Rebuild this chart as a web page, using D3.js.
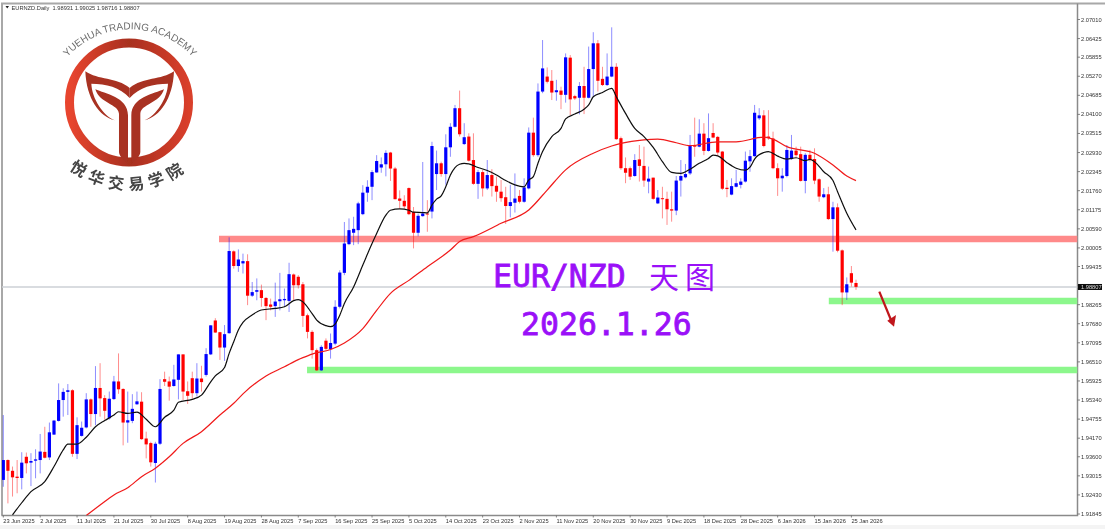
<!DOCTYPE html>
<html><head><meta charset="utf-8">
<script src="https://cdn.jsdelivr.net/npm/d3@7"></script>
<style>html,body{margin:0;padding:0;background:#fff;overflow:hidden}svg{display:block}</style>
</head><body><div id="c"></div>
<script>
const dateLabels=["23 Jun 2025","2 Jul 2025","11 Jul 2025","21 Jul 2025","30 Jul 2025","8 Aug 2025","19 Aug 2025","28 Aug 2025","7 Sep 2025","16 Sep 2025","25 Sep 2025","5 Oct 2025","14 Oct 2025","23 Oct 2025","2 Nov 2025","11 Nov 2025","20 Nov 2025","30 Nov 2025","9 Dec 2025","18 Dec 2025","28 Dec 2025","6 Jan 2026","15 Jan 2026","25 Jan 2026"];
const priceTicks=[2.07010,2.06425,2.05855,2.05270,2.04685,2.04100,2.03515,2.02930,2.02345,2.01760,2.01175,2.00590,2.00005,1.99435,1.98265,1.97680,1.97095,1.96510,1.95925,1.95340,1.94755,1.94170,1.93600,1.93015,1.92430,1.91845];
const lastPrice=1.98807;
const opens=[1.9289,1.9350,1.9317,1.9299,1.9295,1.9360,1.9342,1.9348,1.9350,1.9375,
1.9358,1.9428,1.9470,1.9534,1.9559,1.9564,1.9369,1.9424,1.9450,1.9536,
1.9491,1.9571,1.9540,1.9478,1.9537,1.9591,1.9568,1.9465,1.9470,1.9521,
1.9529,1.9416,1.9402,1.9341,1.9400,1.9598,1.9591,1.9577,1.9596,1.9674,
1.9561,1.9601,1.9555,1.9600,1.9611,1.9674,1.9778,1.9742,1.9695,1.9739,
1.9990,1.9945,1.9953,1.9960,1.9854,1.9866,1.9871,1.9847,1.9827,1.9822,
1.9837,1.9840,1.9838,1.9919,1.9912,1.9889,1.9794,1.9743,1.9687,1.9625,
1.9716,1.9690,1.9707,1.9820,1.9924,2.0012,2.0047,2.0055,2.0104,2.0170,
2.0188,2.0232,2.0247,2.0257,2.0293,2.0244,2.0152,2.0145,2.0184,2.0111,
2.0047,2.0098,2.0106,2.0112,2.0227,2.0260,2.0227,2.0309,2.0372,2.0429,
2.0319,2.0342,2.0270,2.0197,2.0233,2.0183,2.0224,2.0191,2.0173,2.0156,
2.0129,2.0139,2.0160,2.0142,2.0183,2.0354,2.0285,2.0480,2.0526,2.0513,
2.0478,2.0483,2.0470,2.0584,2.0466,2.0461,2.0497,2.0461,2.0549,2.0628,
2.0519,2.0500,2.0526,2.0556,2.0337,2.0245,2.0245,2.0221,2.0272,2.0252,
2.0204,2.0216,2.0137,2.0153,2.0151,2.0119,2.0115,2.0207,2.0217,2.0229,
2.0316,2.0311,2.0351,2.0298,2.0353,2.0341,2.0296,2.0185,2.0164,2.0188,
2.0194,2.0204,2.0266,2.0282,2.0398,2.0407,2.0342,2.0336,2.0245,2.0214,
2.0221,2.0273,2.0299,2.0288,2.0206,2.0286,2.0273,2.0211,2.0156,2.0165,
2.0089,2.0125,1.9993,1.9864,1.9923,1.9893];
const highs=[1.9488,1.9352,1.9330,1.9350,1.9374,1.9373,1.9371,1.9383,1.9430,1.9452,
1.9465,1.9473,1.9585,1.9570,1.9583,1.9567,1.9481,1.9468,1.9555,1.9539,
1.9638,1.9647,1.9549,1.9560,1.9608,1.9677,1.9570,1.9560,1.9552,1.9560,
1.9558,1.9437,1.9406,1.9406,1.9598,1.9621,1.9606,1.9642,1.9674,1.9674,
1.9591,1.9621,1.9647,1.9639,1.9693,1.9764,1.9785,1.9743,1.9764,2.0033,
1.9993,1.9996,1.9983,1.9981,1.9896,1.9907,1.9888,1.9850,1.9845,1.9894,
1.9924,1.9876,1.9955,1.9922,1.9917,1.9896,1.9799,1.9748,1.9692,1.9702,
1.9723,1.9738,1.9840,1.9932,2.0080,2.0091,2.0096,2.0142,2.0193,2.0208,
2.0239,2.0285,2.0278,2.0300,2.0295,2.0249,2.0177,2.0162,2.0186,2.0126,
2.0106,2.0264,2.0147,2.0326,2.0299,2.0265,2.0349,2.0383,2.0439,2.0483,
2.0383,2.0352,2.0352,2.0240,2.0240,2.0270,2.0242,2.0219,2.0209,2.0188,
2.0194,2.0229,2.0178,2.0214,2.0370,2.0400,2.0505,2.0638,2.0554,2.0546,
2.0516,2.0495,2.0597,2.0592,2.0470,2.0509,2.0556,2.0618,2.0662,2.0638,
2.0556,2.0597,2.0677,2.0567,2.0342,2.0278,2.0250,2.0288,2.0316,2.0311,
2.0250,2.0216,2.0178,2.0188,2.0173,2.0173,2.0221,2.0270,2.0258,2.0347,
2.0400,2.0395,2.0383,2.0413,2.0383,2.0344,2.0298,2.0209,2.0214,2.0240,
2.0214,2.0296,2.0301,2.0439,2.0429,2.0423,2.0423,2.0357,2.0260,2.0245,
2.0316,2.0347,2.0311,2.0311,2.0291,2.0301,2.0306,2.0214,2.0184,2.0188,
2.0142,2.0137,1.9996,1.9910,1.9945,1.9903];
const lows=[1.9268,1.9217,1.9238,1.9248,1.9260,1.9309,1.9270,1.9294,1.9309,1.9355,
1.9350,1.9427,1.9468,1.9483,1.9488,1.9360,1.9353,1.9422,1.9447,1.9452,
1.9457,1.9483,1.9474,1.9474,1.9534,1.9553,1.9395,1.9403,1.9463,1.9519,
1.9412,1.9355,1.9330,1.9281,1.9396,1.9577,1.9532,1.9575,1.9536,1.9534,
1.9522,1.9539,1.9545,1.9560,1.9606,1.9672,1.9740,1.9657,1.9654,1.9737,
1.9937,1.9927,1.9922,1.9825,1.9850,1.9840,1.9820,1.9779,1.9809,1.9789,
1.9809,1.9820,1.9804,1.9840,1.9876,1.9758,1.9723,1.9661,1.9623,1.9623,
1.9687,1.9661,1.9702,1.9815,1.9917,2.0009,2.0009,2.0012,2.0101,2.0142,
2.0147,2.0231,2.0231,2.0220,2.0206,2.0149,2.0121,2.0121,2.0101,1.9999,
2.0036,2.0096,2.0050,2.0091,2.0178,2.0219,2.0194,2.0280,2.0370,2.0342,
2.0316,2.0265,2.0194,2.0151,2.0158,2.0178,2.0158,2.0142,2.0142,2.0074,
2.0094,2.0109,2.0137,2.0139,2.0180,2.0280,2.0280,2.0475,2.0505,2.0454,
2.0452,2.0426,2.0446,2.0408,2.0454,2.0410,2.0411,2.0459,2.0464,2.0480,
2.0497,2.0497,2.0524,2.0332,2.0240,2.0199,2.0209,2.0219,2.0204,2.0188,
2.0168,2.0148,2.0135,2.0091,2.0071,2.0081,2.0101,2.0158,2.0214,2.0224,
2.0280,2.0309,2.0285,2.0296,2.0337,2.0282,2.0178,2.0156,2.0162,2.0186,
2.0183,2.0201,2.0234,2.0280,2.0393,2.0309,2.0332,2.0242,2.0160,2.0173,
2.0217,2.0270,2.0280,2.0204,2.0168,2.0265,2.0196,2.0142,2.0153,2.0086,
1.9989,1.9987,1.9825,1.9841,1.9882,1.9872];
const closes=[1.9350,1.9317,1.9297,1.9295,1.9342,1.9340,1.9347,1.9352,1.9376,1.9357,
1.9435,1.9471,1.9534,1.9559,1.9564,1.9369,1.9457,1.9449,1.9536,1.9491,
1.9571,1.9539,1.9501,1.9538,1.9591,1.9567,1.9465,1.9472,1.9507,1.9530,
1.9414,1.9398,1.9343,1.9400,1.9568,1.9590,1.9575,1.9597,1.9674,1.9560,
1.9547,1.9555,1.9600,1.9589,1.9675,1.9763,1.9741,1.9695,1.9736,1.9991,
1.9945,1.9965,1.9960,1.9854,1.9865,1.9871,1.9847,1.9822,1.9820,1.9836,
1.9843,1.9844,1.9920,1.9886,1.9886,1.9792,1.9743,1.9687,1.9625,1.9697,
1.9691,1.9709,1.9820,1.9925,2.0014,2.0055,2.0059,2.0137,2.0170,2.0188,
2.0233,2.0267,2.0257,2.0292,2.0244,2.0150,2.0145,2.0128,2.0104,2.0047,
2.0099,2.0106,2.0104,2.0313,2.0260,2.0227,2.0309,2.0372,2.0429,2.0349,
2.0340,2.0268,2.0197,2.0233,2.0183,2.0224,2.0190,2.0173,2.0153,2.0129,
2.0141,2.0152,2.0142,2.0186,2.0354,2.0285,2.0480,2.0551,2.0510,2.0477,
2.0484,2.0470,2.0585,2.0456,2.0459,2.0497,2.0461,2.0549,2.0628,2.0513,
2.0500,2.0526,2.0556,2.0334,2.0245,2.0231,2.0219,2.0270,2.0252,2.0207,
2.0213,2.0151,2.0155,2.0151,2.0119,2.0115,2.0207,2.0221,2.0227,2.0313,
2.0311,2.0351,2.0298,2.0337,2.0339,2.0293,2.0182,2.0181,2.0190,2.0199,
2.0204,2.0268,2.0282,2.0415,2.0407,2.0313,2.0337,2.0245,2.0214,2.0222,
2.0301,2.0299,2.0285,2.0206,2.0286,2.0272,2.0207,2.0158,2.0165,2.0089,
2.0125,1.9992,1.9864,1.9889,1.9894,1.9881];
const fastBars=[2,4,6,9,11,13,14,16,18,20,22,24,25,27,29,31,33,35,37,38,41,43,45,46,48,49,50,51,52,54,56,59,61,63,64,65,67,68,70,71,72,73,74,76,78,80,81,83,84,86,88,89,91,92,93,94,95,96,97,98,99,100,101,103,105,107,109,111,113,114,115,116,117,119,121,122,124,126,127,128,130,132,133,135,137,139,141,143,145,147,149,151,153,154,155,157,159,161,162,163,165,166,168,170,172,174,175,176,178,180,181,183,185];
const fastMA=[1.9182,1.9219,1.9253,1.9284,1.9330,1.9381,1.9399,1.9399,1.9420,1.9452,1.9471,1.9488,1.9498,1.9493,1.9497,1.9475,1.9452,1.9481,1.9503,1.9527,1.9536,1.9549,1.9590,1.9608,1.9634,1.9677,1.9713,1.9749,1.9772,1.9795,1.9810,1.9815,1.9820,1.9839,1.9842,1.9835,1.9799,1.9779,1.9762,1.9759,1.9767,1.9794,1.9830,1.9881,1.9948,2.0014,2.0045,2.0101,2.0116,2.0120,2.0116,2.0110,2.0109,2.0108,2.0132,2.0150,2.0160,2.0188,2.0224,2.0247,2.0257,2.0260,2.0258,2.0247,2.0238,2.0224,2.0207,2.0194,2.0188,2.0209,2.0219,2.0260,2.0296,2.0342,2.0367,2.0396,2.0411,2.0426,2.0439,2.0464,2.0477,2.0490,2.0464,2.0413,2.0367,2.0342,2.0309,2.0265,2.0232,2.0229,2.0242,2.0260,2.0275,2.0285,2.0283,2.0262,2.0245,2.0239,2.0248,2.0273,2.0293,2.0296,2.0282,2.0273,2.0277,2.0268,2.0272,2.0265,2.0234,2.0207,2.0173,2.0107,2.0056];
const slowBars=[18,21,24,27,30,33,36,39,43,47,50,52,57,61,64,65,67,71,74,78,81,84,88,92,97,99,102,108,114,118,122,128,132,134,139,142,146,149,155,159,165,167,170,176,180,183,185];
const slowMA=[1.9180,1.9212,1.9243,1.9265,1.9299,1.9325,1.9360,1.9401,1.9437,1.9488,1.9524,1.9553,1.9608,1.9636,1.9658,1.9664,1.9675,1.9689,1.9709,1.9753,1.9809,1.9861,1.9901,1.9943,1.9994,2.0020,2.0035,2.0076,2.0117,2.0178,2.0240,2.0291,2.0313,2.0321,2.0332,2.0334,2.0323,2.0314,2.0326,2.0326,2.0340,2.0334,2.0311,2.0291,2.0255,2.0221,2.0207];
const levelPrices=[2.0028,1.9838,1.9626];
const levelStartBars=[46.8,179.1,65.9];
const levelColors=["#ff8a8a","#8cf78c","#8cf78c"];
const headerText="EURNZD.Daily  1.98931 1.99025 1.98716 1.98807";

const W=1105,H=529,plotR=1077.5,plotB=515.5;
const svg=d3.select("#c").append("svg").attr("width",W).attr("height",H).attr("font-family","'Liberation Sans',Arial,sans-serif");
const x=d3.scaleLinear().domain([0,185]).range([3.3,856]);
const y=d3.scaleLinear().domain([1.91845,2.07010]).range([514,19.5]);
svg.append("rect").attr("width",W).attr("height",H).attr("fill","#fff");
svg.append("rect").attr("y",525).attr("width",W).attr("height",4).attr("fill","#f4f4f4");
const defs=svg.append("defs");
defs.append("clipPath").attr("id","plot").append("rect").attr("x",2).attr("y",4).attr("width",plotR-2).attr("height",plotB-4);
defs.append("filter").attr("id","soft").attr("x","-2%").attr("y","-2%").attr("width","104%").attr("height","104%").append("feGaussianBlur").attr("stdDeviation",.35);
const g=defs.append("linearGradient").attr("id","ring").attr("x1","0").attr("x2","1");
g.append("stop").attr("offset","0").attr("stop-color","#e8452f");
g.append("stop").attr("offset",".5").attr("stop-color","#a8301f");
g.append("stop").attr("offset","1").attr("stop-color","#d93f2c");

const root=svg.append("g").attr("filter","url(#soft)");

// frame
root.append("path").attr("d",`M2,${plotB}V3.5H${W}`).attr("fill","none").attr("stroke","#a8a8a8").attr("stroke-width",2);
root.append("path").attr("d",`M${plotR},3.5V${plotB}H1.5`).attr("fill","none").attr("stroke","#8a8a8a").attr("stroke-width",1.5);

// current price line
const plot=root.append("g").attr("clip-path","url(#plot)");
plot.append("line").attr("x1",2).attr("x2",plotR).attr("y1",y(lastPrice)).attr("y2",y(lastPrice)).attr("stroke","#cdd0d6").attr("stroke-width",1.5);

// levels
plot.selectAll(".lvl").data(levelPrices).join("line").attr("x1",(d,i)=>x(levelStartBars[i])).attr("x2",plotR)
 .attr("y1",d=>y(d)).attr("y2",d=>y(d)).attr("stroke",(d,i)=>levelColors[i]).attr("stroke-width",6.5);

// candles
const bars=d3.range(opens.length);
const col=i=>closes[i]>=opens[i]?"#0000ff":"#ff0000";
plot.selectAll(".wick").data(bars).join("line").attr("x1",x).attr("x2",x).attr("y1",i=>y(highs[i])).attr("y2",i=>y(lows[i]))
 .attr("stroke",col).attr("stroke-opacity",.45).attr("stroke-width",1);
plot.selectAll(".body").data(bars).join("rect").attr("x",i=>x(i)-1.6).attr("width",3.2)
 .attr("y",i=>y(Math.max(opens[i],closes[i]))).attr("height",i=>Math.max(1,Math.abs(y(opens[i])-y(closes[i])))).attr("fill",col);

// moving averages
const ln=d3.line().curve(d3.curveMonotoneX);
plot.append("path").attr("d",ln(slowBars.map((b,i)=>[x(b),y(slowMA[i])]))).attr("fill","none").attr("stroke","#f01a1a").attr("stroke-width",1.2);
plot.append("path").attr("d",ln(fastBars.map((b,i)=>[x(b),y(fastMA[i])]))).attr("fill","none").attr("stroke","#111").attr("stroke-width",1.2);

// axes
const ya=root.append("g").attr("font-size",5.7).attr("fill","#333");
ya.selectAll("line").data(priceTicks).join("line").attr("x1",plotR).attr("x2",plotR+2.5).attr("y1",d=>y(d)).attr("y2",d=>y(d)).attr("stroke","#666").attr("stroke-width",.8);
ya.selectAll("text").data(priceTicks).join("text").attr("x",1081).attr("y",d=>y(d)+2).text(d=>d.toFixed(5));
root.append("rect").attr("x",plotR+.5).attr("y",y(lastPrice)-3).attr("width",24).attr("height",6).attr("fill","#111");
root.append("text").attr("x",1081).attr("y",y(lastPrice)+2).attr("font-size",5.7).attr("fill","#ddd").text(lastPrice.toFixed(5));
const xa=root.append("g").attr("font-size",5.7).attr("fill","#333");
xa.selectAll("line").data(dateLabels).join("line").attr("x1",(d,i)=>x(i*8)).attr("x2",(d,i)=>x(i*8)).attr("y1",plotB).attr("y2",plotB+2).attr("stroke","#666").attr("stroke-width",.8);
xa.selectAll("text").data(dateLabels).join("text").attr("x",(d,i)=>x(i*8)).attr("y",523).text(d=>d);

// header
root.append("path").attr("d","M5.5,6L9,6L7.2,8.5Z").attr("fill","#222");
root.append("text").attr("x",11.5).attr("y",9.5).attr("font-size",5.7).attr("fill","#333").attr("xml:space","preserve").text(headerText);

// title
const purple="#9a10f8";
const mono="'DejaVu Sans Mono',monospace";
svg.append("text").attr("x",493).attr("y",287).attr("font-family",mono).attr("stroke",purple).attr("stroke-width",.8).attr("font-size",31.5).attr("fill",purple).text("EUR/NZD");
svg.append("text").attr("x",649).attr("y",288).attr("font-family","'Noto Sans CJK SC'").attr("font-size",30).attr("letter-spacing",6).attr("fill",purple).text("天图");
svg.append("text").attr("x",521).attr("y",335).attr("font-family",mono).attr("stroke",purple).attr("stroke-width",.8).attr("font-size",31.5).attr("fill",purple).text("2026.1.26");

// arrow
root.append("line").attr("x1",879.3).attr("y1",291.7).attr("x2",891).attr("y2",320).attr("stroke","#c0141a").attr("stroke-width",2.2);
root.append("path").attr("d","M894,326.7L887.3,320.7L896,315Z").attr("fill","#c0141a");

// logo
const logo=root.append("g");
logo.append("circle").attr("cx",129).attr("cy",102.5).attr("r",59.5).attr("fill","none").attr("stroke","url(#ring)").attr("stroke-width",9);
const mark=logo.append("g").attr("transform","translate(78,62) scale(.3333)").attr("fill","#a83020");
const half=[
"M22,28 C60,55 115,45 155,78 L155,108 C125,75 85,65 40,65 C42,110 75,160 110,175 C65,165 25,110 22,28 Z",
"M52,82 C80,95 150,105 150,160 L150,305 C135,295 123,280 123,270 L123,155 C120,125 65,125 52,82 Z"];
half.forEach(d=>{mark.append("path").attr("d",d);mark.append("path").attr("d",d).attr("transform","translate(310,0) scale(-1,1)");});
defs.append("path").attr("id","arcTop").attr("d","M63,62 A85,85 0 0 1 197,62");
defs.append("path").attr("id","arcBot").attr("d","M66,166 A95,95 0 0 0 192,166");
logo.append("text").attr("font-size",10).attr("fill","#6e6e6e").append("textPath").attr("href","#arcTop").attr("startOffset","50%").attr("text-anchor","middle").text("YUEHUA TRADING ACADEMY");
logo.append("text").attr("font-family","'Noto Sans CJK SC'").attr("font-weight","bold").attr("font-size",16).attr("letter-spacing",5.5).attr("fill","#444").append("textPath").attr("href","#arcBot").attr("startOffset","50%").attr("text-anchor","middle").text("悦华交易学院");
</script></body></html>
